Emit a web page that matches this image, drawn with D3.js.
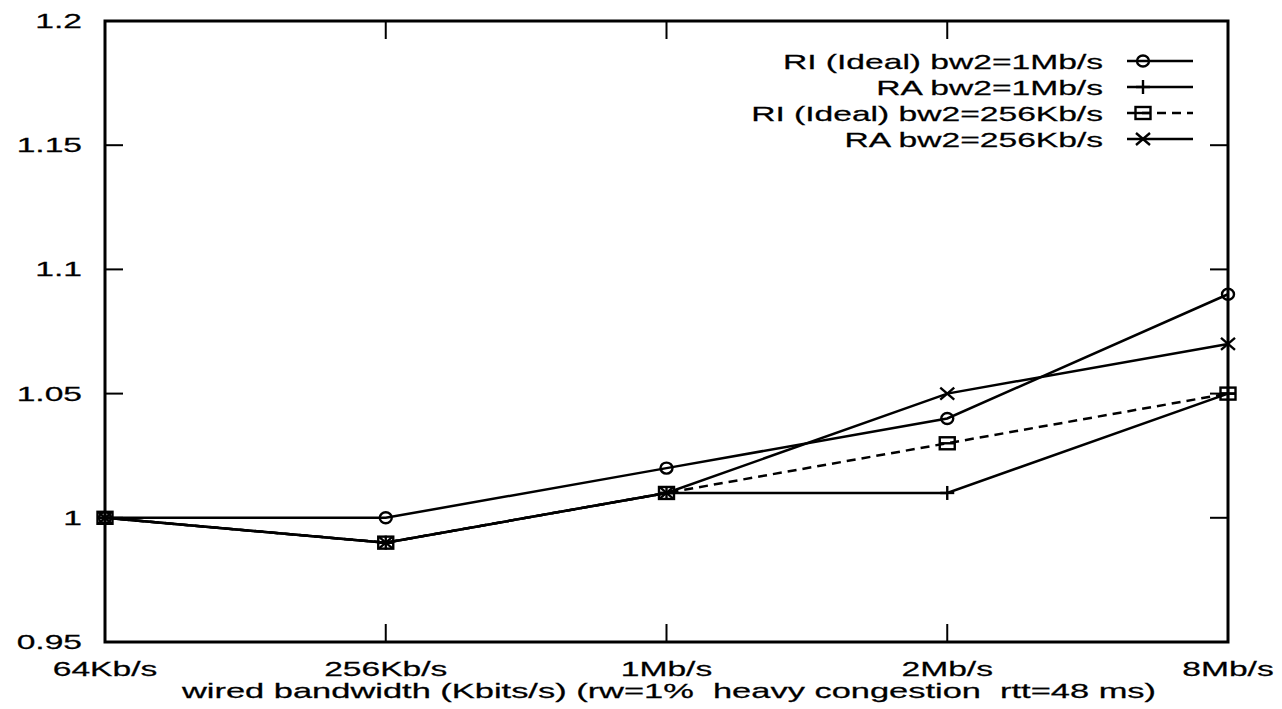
<!DOCTYPE html>
<html>
<head>
<meta charset="utf-8">
<script src="https://cdn.jsdelivr.net/npm/d3@7/dist/d3.min.js"></script>
<style>
  html, body { margin: 0; padding: 0; background: #fff; }
  svg { display: block; }
  text { font-family: "Liberation Sans", Arial, Helvetica, sans-serif; font-size: 21px; fill: #000; white-space: pre; stroke: #000; stroke-width: 0.25px; }
</style>
</head>
<body>
<svg id="chart" width="1282" height="709"></svg>
<script>
// ---- data ----
const categories = ["64Kb/s", "256Kb/s", "1Mb/s", "2Mb/s", "8Mb/s"];
const seriesNames = ["RI (Ideal) bw2=1Mb/s", "RA bw2=1Mb/s", "RI (Ideal) bw2=256Kb/s", "RA bw2=256Kb/s"];
const riIdeal1M   = [1.00, 1.00, 1.02, 1.04, 1.09];
const ra1M        = [1.00, 0.99, 1.01, 1.01, 1.05];
const riIdeal256K = [1.00, 0.99, 1.01, 1.03, 1.05];
const ra256K      = [1.00, 0.99, 1.01, 1.05, 1.07];
const yTicks = [0.95, 1, 1.05, 1.1, 1.15, 1.2];
const xTitle = "wired bandwidth (Kbits/s) (rw=1%  heavy congestion  rtt=48 ms)";

// ---- layout ----
const L = 105, R = 1228, T = 21, B = 642;
const SX = 1.6; // horizontal text stretch of reference
const svg = d3.select("#chart");

const x = d3.scalePoint().domain(categories).range([L, R]);
const y = d3.scaleLinear().domain([0.95, 1.2]).range([B, T]);

const series = [
  { name: seriesNames[0], values: riIdeal1M, marker: "circle", dash: null },
  { name: seriesNames[1], values: ra1M, marker: "plus", dash: null },
  { name: seriesNames[2], values: riIdeal256K, marker: "square", dash: "9,6" },
  { name: seriesNames[3], values: ra256K, marker: "cross", dash: null }
];

function stretchedText(g, tx, ty, str, anchor, sx) {
  return g.append("text")
    .attr("transform", `translate(${tx},${ty}) scale(${sx || SX},1)`)
    .attr("text-anchor", anchor)
    .attr("xml:space", "preserve")
    .text(str);
}

// ticks (inward, mirrored)
const tickLen = 18;
const tg = svg.append("g").attr("stroke", "#000").attr("stroke-width", 2);
yTicks.forEach(v => {
  if (v === 0.95 || v === 1.2) return;
  tg.append("line").attr("x1", L).attr("x2", L + tickLen).attr("y1", y(v)).attr("y2", y(v));
  tg.append("line").attr("x1", R).attr("x2", R - tickLen).attr("y1", y(v)).attr("y2", y(v));
});
categories.forEach((c, i) => {
  if (i === 0 || i === categories.length - 1) return;
  tg.append("line").attr("x1", x(c)).attr("x2", x(c)).attr("y1", B).attr("y2", B - tickLen);
  tg.append("line").attr("x1", x(c)).attr("x2", x(c)).attr("y1", T).attr("y2", T + tickLen);
});

// frame
svg.append("rect").attr("x", L).attr("y", T).attr("width", R - L).attr("height", B - T)
  .attr("fill", "none").attr("stroke", "#000").attr("stroke-width", 3);

// tick labels
const lg = svg.append("g");
yTicks.forEach(v => stretchedText(lg, 82, y(v) + 7, String(v), "end"));
categories.forEach(c => stretchedText(lg, x(c), 676, c, "middle"));
stretchedText(lg, 669, 698, xTitle, "middle", 1.64);

// markers
function drawMarker(g, cx, cy, type) {
  const m = g.append("g").attr("fill", "none").attr("stroke", "#000").attr("stroke-width", 2.4);
  if (type === "circle") {
    m.append("ellipse").attr("cx", cx).attr("cy", cy).attr("rx", 6).attr("ry", 5.5);
  } else if (type === "square") {
    m.append("rect").attr("x", cx - 7.5).attr("y", cy - 6).attr("width", 15).attr("height", 12);
    m.append("line").attr("x1", cx - 7.5).attr("x2", cx + 7.5).attr("y1", cy).attr("y2", cy);
  } else if (type === "plus") {
    m.append("line").attr("x1", cx - 7).attr("x2", cx + 7).attr("y1", cy).attr("y2", cy);
    m.append("line").attr("x1", cx).attr("x2", cx).attr("y1", cy - 7).attr("y2", cy + 7);
  } else if (type === "cross") {
    m.append("line").attr("x1", cx - 7).attr("x2", cx + 7).attr("y1", cy - 6).attr("y2", cy + 6);
    m.append("line").attr("x1", cx - 7).attr("x2", cx + 7).attr("y1", cy + 6).attr("y2", cy - 6);
  }
}

// lines
const line = d3.line().x((d, i) => x(categories[i])).y(d => y(d));
const dg = svg.append("g");
series.forEach(s => {
  dg.append("path").attr("d", line(s.values)).attr("fill", "none")
    .attr("stroke", "#000").attr("stroke-width", 2.5)
    .attr("stroke-dasharray", s.dash);
  s.values.forEach((v, i) => drawMarker(dg, x(categories[i]), y(v), s.marker));
});

// legend
const leg = svg.append("g");
const legRows = [61, 87, 113, 139];
series.forEach((s, i) => {
  const ry = legRows[i];
  stretchedText(leg, 1103, ry + 8, s.name, "end");
  leg.append("line").attr("x1", 1127).attr("x2", 1193).attr("y1", ry).attr("y2", ry)
    .attr("stroke", "#000").attr("stroke-width", 2.5).attr("stroke-dasharray", s.dash);
  drawMarker(leg, 1143, ry, s.marker);
});
</script>
</body>
</html>
